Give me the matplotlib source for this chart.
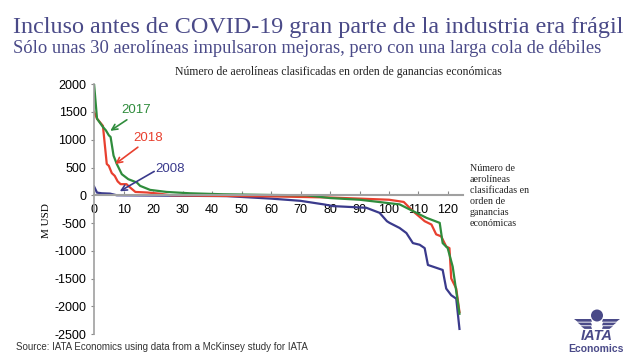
import matplotlib
matplotlib.use("Agg")
import matplotlib.pyplot as plt
from matplotlib.patches import Circle, Polygon

plt.rcParams["axes.unicode_minus"] = False

# data (airline rank, economic profit in M USD)
x_2017 = [0, 1, 3, 4, 5, 5.6, 6.6, 7.7, 9.4, 11.6, 14.5, 15.6, 19, 24.6, 32.5, 43.8, 61, 72, 80,
          90, 103.6, 109.3, 112.7, 117.2, 118.2, 119.9, 121.6, 123.9]
y_2017 = [2000, 1380, 1230, 1170, 1080, 1050, 715, 564, 380, 290, 230, 170, 97, 60, 36, 18, 5, 0, -50,
          -80, -164, -316, -406, -497, -861, -952, -1285, -2134]

x_2018 = [0, 1, 3, 4.3, 5, 6, 7, 8, 9, 11, 12, 14, 18, 22, 26, 40, 60, 80, 90, 100, 105,
          108.1, 112.1, 114.4, 116, 117.7, 119.4, 120.5, 121.1, 122.8, 123.9]
y_2018 = [1500, 1380, 1250, 564, 530, 400, 350, 250, 200, 200, 150, 60, 50, 30, 0, -10, -20, -40, -60, -80, -120,
          -285, -467, -527, -704, -740, -922, -952, -1498, -1680, -2104]

x_2008 = [0, 1, 2.6, 5.4, 7.7, 20, 45, 60, 70, 78, 81, 92.3, 96.8, 99.3, 100.2, 103.6, 105.9,
          108.1, 110.4, 112.1, 113.2, 118.2, 119.4, 121.1, 122.8, 123.9]
y_2008 = [158, 48, 36, 30, 0, -5, -15, -60, -100, -165, -195, -225, -316, -467, -497, -589, -680,
          -861, -891, -952, -1255, -1345, -1680, -1800, -1862, -2407]

xticks = [0, 10, 20, 30, 40, 50, 60, 70, 80, 90, 100, 110, 120]
yticks = [-2500, -2000, -1500, -1000, -500, 0, 500, 1000, 1500, 2000]

GREEN = "#2f8c3c"
RED = "#e8402f"
NAVY = "#3a3a8c"
TITLE = "#4a4a88"
serif = ["Liberation Serif", "DejaVu Serif"]
sans = ["Liberation Sans", "DejaVu Sans"]

fig = plt.figure(figsize=(6.4, 3.6), dpi=100)
ax = fig.add_axes([0.147, 0.072, 0.576, 0.694])

ax.plot(x_2008, y_2008, color=NAVY, lw=1.6)
ax.plot(x_2018, y_2018, color=RED, lw=1.6)
ax.plot(x_2017, y_2017, color=GREEN, lw=1.6)

ax.set_xlim(0, 125)
ax.set_ylim(-2500, 2000)
ax.set_xticks(xticks)
ax.set_yticks(yticks)
ax.spines["top"].set_visible(False)
ax.spines["right"].set_visible(False)
ax.spines["left"].set_color("#a0a0a0")
ax.spines["bottom"].set_color("#a0a0a0")
ax.spines["bottom"].set_position(("data", 0))
ax.spines["left"].set_linewidth(1.2)
ax.spines["bottom"].set_linewidth(1.5)
ax.tick_params(axis="x", direction="in", length=3, color="#888888", labelsize=9, pad=6)
ax.tick_params(axis="y", direction="out", length=2.5, color="#888888", labelsize=9, pad=3)
for lab in ax.get_xticklabels() + ax.get_yticklabels():
    lab.set_family(sans)
ax.set_ylabel("M USD", family=serif, fontsize=8)
ax.yaxis.set_label_coords(-0.117, 0.456)

# series labels with arrows
ax.text(14.2, 1533, "2017", color=GREEN, fontsize=9.5, ha="center", va="center", family=sans)
ax.annotate("", xy=(4.7, 1133), xytext=(11.9, 1387),
            arrowprops=dict(arrowstyle="->", color=GREEN, lw=1.2))
ax.text(18.3, 1024, "2018", color=RED, fontsize=9.5, ha="center", va="center", family=sans)
ax.annotate("", xy=(6.4, 532), xytext=(15.6, 896),
            arrowprops=dict(arrowstyle="->", color=RED, lw=1.2))
ax.text(25.8, 478, "2008", color=NAVY, fontsize=9.5, ha="center", va="center", family=sans)
ax.annotate("", xy=(7.9, 47), xytext=(21.2, 455),
            arrowprops=dict(arrowstyle="->", color=NAVY, lw=1.2))

fig.text(0.02, 0.908, "Incluso antes de COVID-19 gran parte de la industria era frágil",
         family=serif, fontsize=17.4, color=TITLE, va="baseline")
fig.text(0.02, 0.853, "Sólo unas 30 aerolíneas impulsaron mejoras, pero con una larga cola de débiles",
         family=serif, fontsize=13.3, color=TITLE, va="baseline")
fig.text(0.528, 0.8, "Número de aerolíneas clasificadas en orden de ganancias económicas",
         family=serif, fontsize=8.5, color="#222222", ha="center", va="center")
fig.text(0.734, 0.456, "Número de\naerolíneas\nclasificadas en\norden de\nganancias\neconómicas",
         family=serif, fontsize=7.2, color="#222222", va="center", linespacing=1.3)
fig.text(0.025, 0.036, "Source: IATA Economics using data from a McKinsey study for IATA",
         family=sans, fontsize=7, color="#333333", va="center")

# IATA logo, drawn in pixel coordinates
lg = fig.add_axes([540 / 640, 0, 100 / 640, 80 / 360])
lg.set_xlim(540, 640)
lg.set_ylim(360, 280)
lg.axis("off")
lg.add_patch(Circle((597, 315.5), 6, facecolor=TITLE, edgecolor="none"))
for (y0, x_out) in [(319, 574), (322.6, 577.5), (326.2, 581)]:
    lg.add_patch(Polygon([(x_out, y0), (591, y0), (592, y0 + 2.7), (x_out + 3.5, y0 + 2.7)],
                         closed=True, facecolor=TITLE, edgecolor="none"))
    lg.add_patch(Polygon([(1194 - x_out, y0), (603, y0), (602, y0 + 2.7), (1194 - x_out - 3.5, y0 + 2.7)],
                         closed=True, facecolor=TITLE, edgecolor="none"))
lg.text(597, 335.5, "IATA", family=sans, fontsize=10.5, weight="bold", style="italic",
        color=TITLE, ha="center", va="center")
lg.text(596, 349.5, "Economics", family=sans, fontsize=7.5, weight="bold",
        color=TITLE, ha="center", va="center")

fig.savefig("out.png", dpi=100)
